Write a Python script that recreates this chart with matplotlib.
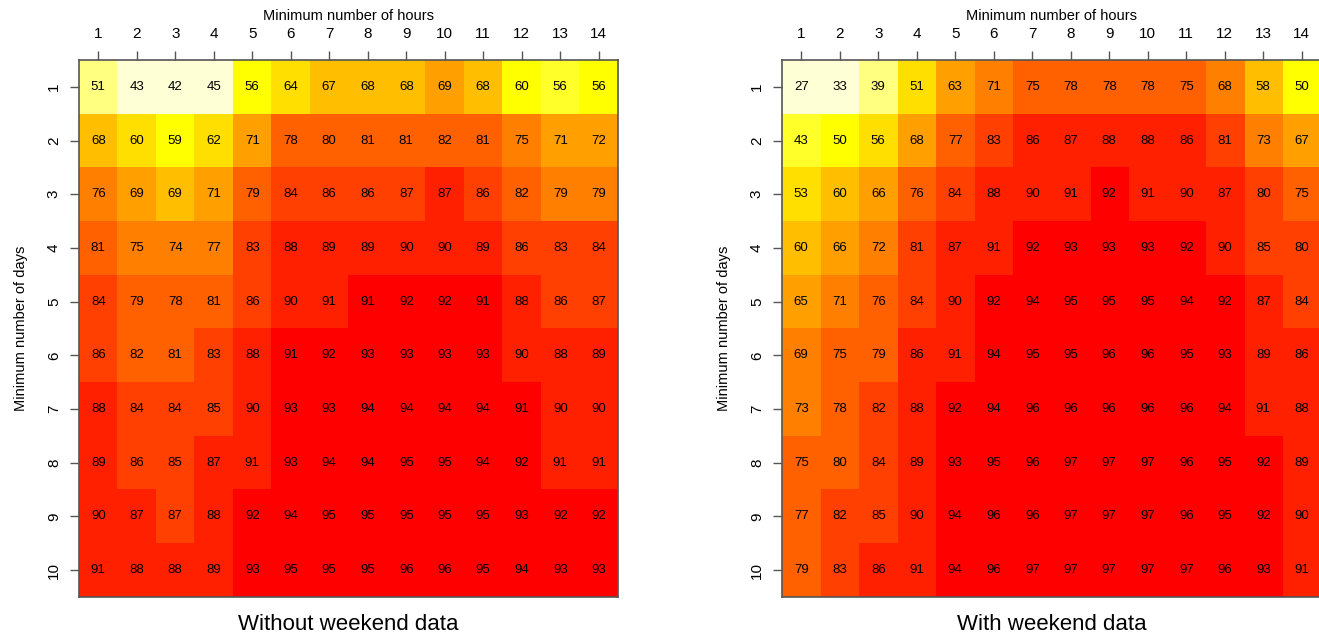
import numpy as np
import matplotlib
matplotlib.use("Agg")
import matplotlib.pyplot as plt
from matplotlib.colors import ListedColormap

plt.rcParams['font.family'] = ['Liberation Sans', 'DejaVu Sans']

hours = list(range(1, 15))
days = list(range(1, 11))

# Porcentajes sin datos de fin de semana (filas = dias, columnas = horas)
sin_finde = [
    [51, 43, 42, 45, 56, 64, 67, 68, 68, 69, 68, 60, 56, 56],
    [68, 60, 59, 62, 71, 78, 80, 81, 81, 82, 81, 75, 71, 72],
    [76, 69, 69, 71, 79, 84, 86, 86, 87, 87, 86, 82, 79, 79],
    [81, 75, 74, 77, 83, 88, 89, 89, 90, 90, 89, 86, 83, 84],
    [84, 79, 78, 81, 86, 90, 91, 91, 92, 92, 91, 88, 86, 87],
    [86, 82, 81, 83, 88, 91, 92, 93, 93, 93, 93, 90, 88, 89],
    [88, 84, 84, 85, 90, 93, 93, 94, 94, 94, 94, 91, 90, 90],
    [89, 86, 85, 87, 91, 93, 94, 94, 95, 95, 94, 92, 91, 91],
    [90, 87, 87, 88, 92, 94, 95, 95, 95, 95, 95, 93, 92, 92],
    [91, 88, 88, 89, 93, 95, 95, 95, 96, 96, 95, 94, 93, 93],
]

# Clase de color de cada celda (los numeros mostrados estan redondeados)
sin_finde_clase = [
    [1, 0, 0, 0, 3, 4, 5, 5, 5, 6, 5, 3, 2, 3],
    [5, 4, 3, 4, 6, 8, 8, 8, 8, 8, 8, 7, 6, 6],
    [7, 6, 5, 6, 8, 9, 9, 9, 9, 10, 9, 8, 7, 7],
    [8, 7, 7, 7, 9, 10, 10, 10, 10, 10, 10, 9, 9, 9],
    [9, 8, 8, 8, 9, 10, 10, 11, 11, 11, 11, 10, 9, 9],
    [9, 8, 8, 9, 10, 11, 11, 11, 11, 11, 11, 10, 10, 10],
    [10, 9, 9, 9, 10, 11, 11, 11, 11, 11, 11, 11, 10, 10],
    [10, 9, 9, 10, 10, 11, 11, 11, 11, 11, 11, 11, 10, 10],
    [10, 10, 9, 10, 11, 11, 11, 11, 11, 11, 11, 11, 11, 11],
    [10, 10, 10, 10, 11, 11, 11, 11, 11, 11, 11, 11, 11, 11],
]

# Porcentajes con datos de fin de semana
con_finde = [
    [27, 33, 39, 51, 63, 71, 75, 78, 78, 78, 75, 68, 58, 50],
    [43, 50, 56, 68, 77, 83, 86, 87, 88, 88, 86, 81, 73, 67],
    [53, 60, 66, 76, 84, 88, 90, 91, 92, 91, 90, 87, 80, 75],
    [60, 66, 72, 81, 87, 91, 92, 93, 93, 93, 92, 90, 85, 80],
    [65, 71, 76, 84, 90, 92, 94, 95, 95, 95, 94, 92, 87, 84],
    [69, 75, 79, 86, 91, 94, 95, 95, 96, 96, 95, 93, 89, 86],
    [73, 78, 82, 88, 92, 94, 96, 96, 96, 96, 96, 94, 91, 88],
    [75, 80, 84, 89, 93, 95, 96, 97, 97, 97, 96, 95, 92, 89],
    [77, 82, 85, 90, 94, 96, 96, 97, 97, 97, 96, 95, 92, 90],
    [79, 83, 86, 91, 94, 96, 97, 97, 97, 97, 97, 96, 93, 91],
]

con_finde_clase = [
    [0, 0, 1, 4, 6, 7, 8, 8, 8, 8, 8, 7, 5, 3],
    [2, 3, 4, 6, 8, 9, 10, 10, 10, 10, 10, 9, 7, 6],
    [4, 5, 6, 8, 9, 10, 10, 10, 11, 10, 10, 10, 9, 8],
    [5, 6, 7, 9, 10, 10, 11, 11, 11, 11, 11, 10, 9, 9],
    [6, 7, 8, 9, 10, 11, 11, 11, 11, 11, 11, 11, 10, 9],
    [7, 8, 8, 10, 10, 11, 11, 11, 11, 11, 11, 11, 10, 10],
    [7, 8, 9, 10, 11, 11, 11, 11, 11, 11, 11, 11, 10, 10],
    [8, 8, 9, 10, 11, 11, 11, 11, 11, 11, 11, 11, 11, 10],
    [8, 9, 9, 10, 11, 11, 11, 11, 11, 11, 11, 11, 11, 10],
    [8, 9, 10, 10, 11, 11, 11, 11, 11, 11, 11, 11, 11, 10],
]

titulos = ["Without weekend data", "With weekend data"]

# rev(heat.colors(12)) como en R
colores = ['#FFFFD5', '#FFFF80', '#FFFF2A', '#FFFF00', '#FFDF00', '#FFBF00',
           '#FF9F00', '#FF8000', '#FF6000', '#FF4000', '#FF2000', '#FF0000']
cmap = ListedColormap(colores)


def panel(ax, datos, clase, titulo):
    z = np.array(datos)
    ax.imshow(np.array(clase), cmap=cmap, vmin=-0.5, vmax=len(colores) - 0.5,
              extent=(0.5, len(hours) + 0.5, len(days) + 0.5, 0.5),
              aspect='auto', interpolation='nearest')
    for i in range(len(days)):
        for j in range(len(hours)):
            ax.text(hours[j], days[i], "%d" % z[i, j], ha='center', va='center',
                    fontsize=9.5, color='black')
    ax.set_xlim(0.5, len(hours) + 0.5)
    ax.set_ylim(len(days) + 0.5, 0.5)
    ax.xaxis.tick_top()
    ax.xaxis.set_label_position('top')
    ax.set_xticks(hours)
    ax.set_yticks(days)
    ax.set_yticklabels([str(d) for d in days], rotation=90, va='center')
    ax.tick_params(axis='both', length=6.5, width=1, color='#555555', labelsize=11)
    ax.tick_params(axis='x', pad=7.5)
    ax.tick_params(axis='y', pad=6.5)
    ax.set_xlabel("Minimum number of hours", fontsize=10.5, labelpad=5)
    ax.set_ylabel("Minimum number of days", fontsize=10.5, labelpad=13.5)
    for s in ax.spines.values():
        s.set_color('#555555')
        s.set_linewidth(1.2)
    ax.text(0.5, -0.051, titulo, transform=ax.transAxes, ha='center', va='center',
            fontsize=16)


fig = plt.figure(figsize=(13.19, 6.34), dpi=100)
ax1 = fig.add_axes([79 / 1319, 37 / 634, 539 / 1319, 537 / 634])
ax2 = fig.add_axes([782 / 1319, 37 / 634, 539 / 1319, 537 / 634])
panel(ax1, sin_finde, sin_finde_clase, titulos[0])
panel(ax2, con_finde, con_finde_clase, titulos[1])

fig.savefig("out.png", dpi=100)
plt.close()
